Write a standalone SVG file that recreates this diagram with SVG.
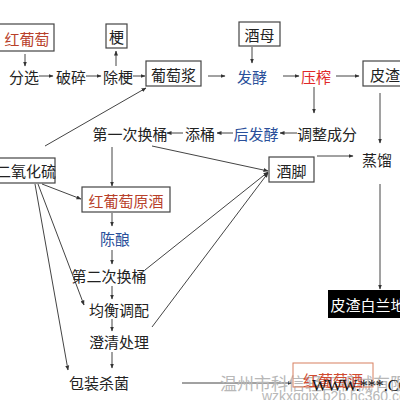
<svg xmlns="http://www.w3.org/2000/svg" width="400" height="400" viewBox="0 0 400 400">
<defs>
<marker id="ah" viewBox="0 0 10 10" refX="9" refY="5" markerWidth="5" markerHeight="5" orient="auto" markerUnits="userSpaceOnUse"><path d="M0,1 L10,5 L0,9 z" fill="#333"/></marker>
<style>
text{font-family:"Noto Sans CJK SC","Noto Sans",sans-serif;font-size:15px;fill:#222;dominant-baseline:central;text-anchor:middle}
.box{fill:#fff;stroke:#444;stroke-width:1.2}
.red{fill:#b8402a}
.bred{fill:#e02828}
.blue{fill:#2a4f9a}
.c line{stroke:#444;stroke-width:1;fill:none;marker-end:url(#ah)}
.c line.n{marker-end:none}
.wm{fill:#b8b8b8}
</style>
</defs>
<rect width="400" height="400" fill="#fff"/>

<g class="c" id="connectors">
<line x1="25" y1="54" x2="25" y2="66"/>
<line x1="39" y1="76" x2="53" y2="76"/>
<line x1="86" y1="76" x2="101" y2="76"/>
<line x1="116" y1="66" x2="116" y2="51"/>
<line x1="133" y1="76" x2="145" y2="76"/>
<line x1="208" y1="76" x2="225" y2="76"/>
<line x1="252" y1="47" x2="252" y2="63"/>
<line x1="283" y1="76" x2="299" y2="76"/>
<line x1="336" y1="76" x2="359" y2="76"/>
<line x1="314" y1="87" x2="314" y2="113"/>
<line x1="297" y1="133" x2="280" y2="133"/>
<line x1="233" y1="133" x2="217" y2="133"/>
<line x1="183" y1="133" x2="167" y2="133"/>
<line x1="380" y1="93" x2="380" y2="143"/>
<line x1="380" y1="184" x2="380" y2="289"/>
<line x1="317" y1="156" x2="353" y2="156"/>
<line x1="45" y1="146" x2="146" y2="88"/>
<line x1="152" y1="146" x2="268" y2="171"/>
<line x1="145" y1="270" x2="268" y2="172"/>
<line x1="152" y1="327" x2="268" y2="173"/>
<line x1="112" y1="147" x2="112" y2="186"/>
<line x1="42" y1="184" x2="81" y2="199"/>
<line x1="38" y1="184" x2="84" y2="305"/>
<line x1="35" y1="184" x2="68" y2="370"/>
<line x1="112" y1="213" x2="112" y2="226"/>
<line x1="112" y1="250" x2="112" y2="264"/>
<line x1="112" y1="286" x2="112" y2="299"/>
<line x1="112" y1="319" x2="112" y2="331"/>
<line x1="112" y1="352" x2="112" y2="368"/>
<line x1="182" y1="383" x2="292" y2="383"/>
</g>

<g id="n-hongputao"><rect class="box" x="-2" y="24" width="56" height="27"/><text class="red" x="27" y="38">红葡萄</text></g>
<g id="n-geng"><rect class="box" x="106" y="24" width="21" height="24"/><text x="116.5" y="36">梗</text></g>
<g id="n-jiumu"><rect class="box" x="239" y="22" width="41" height="24"/><text x="259.5" y="34">酒母</text></g>
<g id="n-fenxuan"><text x="24" y="76">分选</text></g>
<g id="n-posui"><text x="71" y="76">破碎</text></g>
<g id="n-chugeng"><text x="118" y="76">除梗</text></g>
<g id="n-putaojiang"><rect class="box" x="146" y="61" width="55" height="25"/><text x="173.5" y="74">葡萄浆</text></g>
<g id="n-fajiao"><text class="blue" x="252" y="76">发酵</text></g>
<g id="n-yazha"><text class="bred" x="316" y="76">压榨</text></g>
<g id="n-pizha"><rect class="box" x="363" y="61" width="40" height="25"/><text x="385" y="74">皮渣</text></g>
<g id="n-tiaozheng"><text x="327" y="133">调整成分</text></g>
<g id="n-houfajiao"><text class="blue" x="256" y="133">后发酵</text></g>
<g id="n-tiantong"><text x="200" y="133">添桶</text></g>
<g id="n-huantong1"><text x="130" y="133">第一次换桶</text></g>
<g id="n-so2"><rect class="box" x="-4" y="158" width="59" height="25"/><text x="26" y="170">二氧化硫</text></g>
<g id="n-jiujiao"><rect class="box" x="269" y="157" width="45" height="25"/><text x="291.5" y="170">酒脚</text></g>
<g id="n-zhengliu"><text x="377" y="159">蒸馏</text></g>
<g id="n-yuanjiu"><rect class="box" x="82" y="187" width="88" height="25"/><text class="red" x="126" y="200">红葡萄原酒</text></g>
<g id="n-chenniang"><text class="blue" x="115" y="238">陈酿</text></g>
<g id="n-huantong2"><text x="109" y="275">第二次换桶</text></g>
<g id="n-junheng"><text x="119" y="309">均衡调配</text></g>
<g id="n-chengqing"><text x="119" y="341">澄清处理</text></g>
<g id="n-baozhuang"><text x="99" y="382">包装杀菌</text></g>
<g id="n-brandy"><rect x="328" y="290" width="75" height="28" fill="#000"/><text x="368" y="304" fill="#fff" style="fill:#fff">皮渣白兰地</text></g>

<g id="watermark">
<text class="wm" x="220" y="382" style="text-anchor:start;font-size:17px">温州市科信轻工机械有限公司</text>
<rect x="293" y="363" width="80" height="24" fill="none" stroke="#d88060" stroke-width="1"/>
<text x="333" y="379" style="fill:#d04a30;font-size:15px">红葡萄酒</text>
<text x="312" y="385" style="text-anchor:start;font-family:'Liberation Serif',serif;font-size:16px;fill:#111">WWW.***.COM</text>
<text class="wm" x="262" y="396" style="text-anchor:start;font-family:'Liberation Sans',sans-serif;font-size:14px">wzkxqgjx.b2b.hc360.com</text>
</g>
</svg>
